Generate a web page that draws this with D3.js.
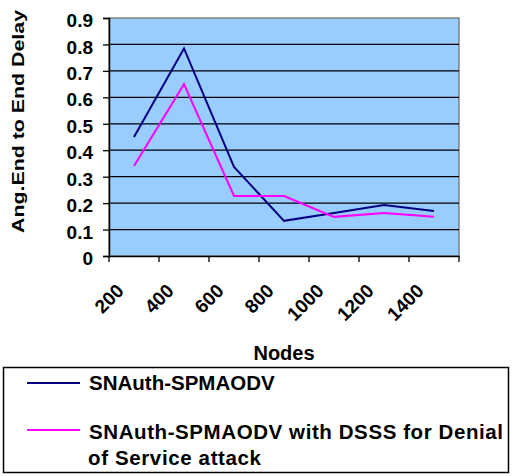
<!DOCTYPE html>
<html>
<head>
<meta charset="utf-8">
<script src="https://cdn.jsdelivr.net/npm/d3@7"></script>
<style>
  body { margin: 0; background: #fff; }
  text { font-family: "Liberation Sans", Arial, sans-serif; font-weight: bold; }
</style>
</head>
<body>
<div id="holder"></div>
<script>
const w = 519;
const h = 476;

// DATA
const nodes = ["200", "400", "600", "800", "1000", "1200", "1400"];
const plain = [0.45, 0.785, 0.337, 0.133, 0.163, 0.193, 0.17];
const dsss = [0.34, 0.65, 0.227, 0.227, 0.148, 0.163, 0.148];
const yTicks = [0, 0.1, 0.2, 0.3, 0.4, 0.5, 0.6, 0.7, 0.8, 0.9];
const seriesNames = ["SNAuth-SPMAODV", "SNAuth-SPMAODV  with DSSS for Denial", "of Service attack"];

// PLOT AREA
const plotL = 109, plotR = 459, plotT = 18, plotB = 256;

const svg = d3.select("#holder")
    .append("svg")
    .attr("width", w)
    .attr("height", h)

const xScale = d3.scaleBand()
    .domain(nodes)
    .range([plotL, plotR])

const yScale = d3.scaleLinear()
    .domain([0, 0.9])
    .range([plotB, plotT])

// background
svg.append("rect")
    .attr("x", plotL)
    .attr("y", plotT)
    .attr("width", plotR - plotL)
    .attr("height", plotB - plotT)
    .attr("fill", "#99ccff")
    .attr("stroke", "#808080")
    .attr("stroke-width", 1.5)

// GRIDLINES
svg.append("g")
    .selectAll("line")
    .data(yTicks.filter(d => d > 0 && d < 0.9))
    .enter()
    .append("line")
    .attr("x1", plotL)
    .attr("x2", plotR)
    .attr("y1", d => yScale(d))
    .attr("y2", d => yScale(d))
    .attr("stroke", "#000")
    .attr("stroke-width", 1.3)

// Y AXIS
const yAxis = d3.axisLeft(yScale)
    .tickValues(yTicks)
    .tickSize(6)
    .tickFormat(d => d === 0 ? "0" : d3.format(".1f")(d))

const gy = svg.append("g")
    .attr("transform", "translate(" + plotL + ",0)")
    .call(yAxis)
gy.select(".domain").attr("stroke", "#000").attr("stroke-width", 1.5)
gy.selectAll(".tick line").attr("stroke", "#000").attr("stroke-width", 1.3)
gy.selectAll(".tick text")
    .attr("x", -16)
    .attr("dy", "0.45em")
    .attr("fill", "#000")
    .style("font-size", "19px")
    .style("font-family", "Liberation Sans, Arial, sans-serif")
    .style("font-weight", "bold")

// X AXIS
const xAxis = d3.axisBottom(xScale)
    .tickSize(0)
    .tickFormat(d => d)

const gx = svg.append("g")
    .attr("transform", "translate(0," + plotB + ")")
    .call(xAxis)
gx.select(".domain").attr("stroke", "#000").attr("stroke-width", 1.5)
gx.selectAll(".tick text")
    .attr("text-anchor", "end")
    .attr("dy", null)
    .attr("y", 0)
    .attr("transform", "translate(-9,36) rotate(-45)")
    .attr("fill", "#000")
    .style("font-size", "19px")
    .style("font-family", "Liberation Sans, Arial, sans-serif")
    .style("font-weight", "bold")

// category boundary ticks
svg.append("g")
    .selectAll("line")
    .data(nodes.concat(["end"]))
    .enter()
    .append("line")
    .attr("x1", (d, i) => i < nodes.length ? xScale(d) : plotR)
    .attr("x2", (d, i) => i < nodes.length ? xScale(d) : plotR)
    .attr("y1", plotB)
    .attr("y2", plotB + 6)
    .attr("stroke", "#000")
    .attr("stroke-width", 1.3)

// AXIS TITLES
svg.append("text")
    .attr("transform", "translate(24,121.5) rotate(-90)")
    .attr("text-anchor", "middle")
    .attr("textLength", 223)
    .attr("lengthAdjust", "spacingAndGlyphs")
    .style("font-size", "17px")
    .text("Ang.End to End Delay")

svg.append("text")
    .attr("x", 284)
    .attr("y", 360)
    .attr("text-anchor", "middle")
    .style("font-size", "20px")
    .text("Nodes")

// LINES
const line = d3.line()
    .x((d, i) => xScale(nodes[i]) + xScale.bandwidth() / 2)
    .y(d => yScale(d))

svg.append("path")
    .datum(plain)
    .attr("d", line)
    .attr("fill", "none")
    .attr("stroke", "#000080")
    .attr("stroke-width", 2)

svg.append("path")
    .datum(dsss)
    .attr("d", line)
    .attr("fill", "none")
    .attr("stroke", "#ff00ff")
    .attr("stroke-width", 2)

// LEGEND
svg.append("rect")
    .attr("x", 3.5)
    .attr("y", 367.5)
    .attr("width", 505)
    .attr("height", 105)
    .attr("fill", "#fff")
    .attr("stroke", "#000")
    .attr("stroke-width", 1.5)

svg.append("line")
    .attr("x1", 27).attr("x2", 80)
    .attr("y1", 383).attr("y2", 383)
    .attr("stroke", "#000080").attr("stroke-width", 2)
svg.append("text")
    .attr("x", 89).attr("y", 390)
    .style("font-size", "20.5px")
    .text(seriesNames[0])

svg.append("line")
    .attr("x1", 27).attr("x2", 80)
    .attr("y1", 430).attr("y2", 430)
    .attr("stroke", "#ff00ff").attr("stroke-width", 2)
svg.append("text")
    .attr("x", 89).attr("y", 439)
    .style("font-size", "20.5px")
    .attr("textLength", 414)
    .text(seriesNames[1])
svg.append("text")
    .attr("x", 88).attr("y", 465)
    .style("font-size", "20.5px")
    .attr("textLength", 173)
    .text(seriesNames[2])
</script>
</body>
</html>
